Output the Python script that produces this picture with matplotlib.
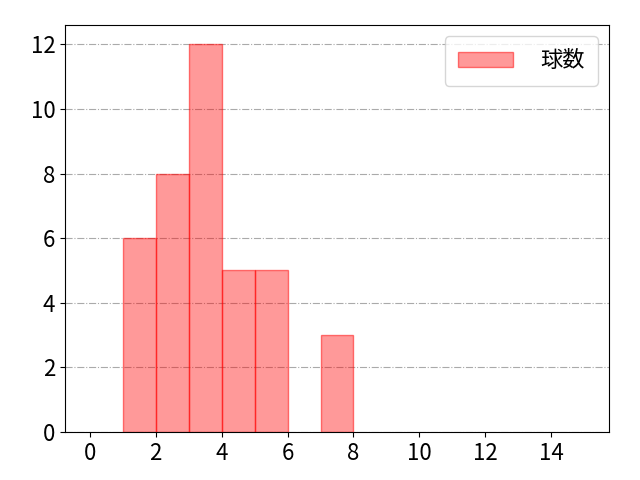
import matplotlib
matplotlib.use("Agg")
import matplotlib.pyplot as plt

plt.rcParams['font.family'] = ['Noto Sans CJK JP', 'DejaVu Sans']

bin_edges = list(range(0, 15))
counts = [0, 6, 8, 12, 5, 5, 0, 3, 0, 0, 0, 0, 0, 0, 0]
label = "球数"

xs = [x for x, c in zip(bin_edges, counts) if c > 0]
hs = [c for c in counts if c > 0]

fig = plt.figure(figsize=(6.4, 4.8), dpi=100)
ax = fig.add_axes([65/640, 1-432/480, (609-65)/640, (432-25)/480])
ax.bar(xs, hs, width=1, align='edge', color=(1, 0, 0, 0.4),
       edgecolor=(1, 0, 0, 0.5), linewidth=1, label=label)
ax.set_xlim(-0.75, 15.75)
ax.set_ylim(0, 12.6)
ax.set_xticks(range(0, 16, 2))
ax.set_yticks(range(0, 13, 2))
ax.tick_params(labelsize=16)
ax.grid(axis='y', linestyle='-.', color='#aaaaaa', linewidth=0.8)
ax.set_axisbelow(True)
ax.legend(fontsize=16, loc='upper right', handlelength=2.5, borderpad=0.6,
          handletextpad=1.2)
fig.savefig("out.png")
